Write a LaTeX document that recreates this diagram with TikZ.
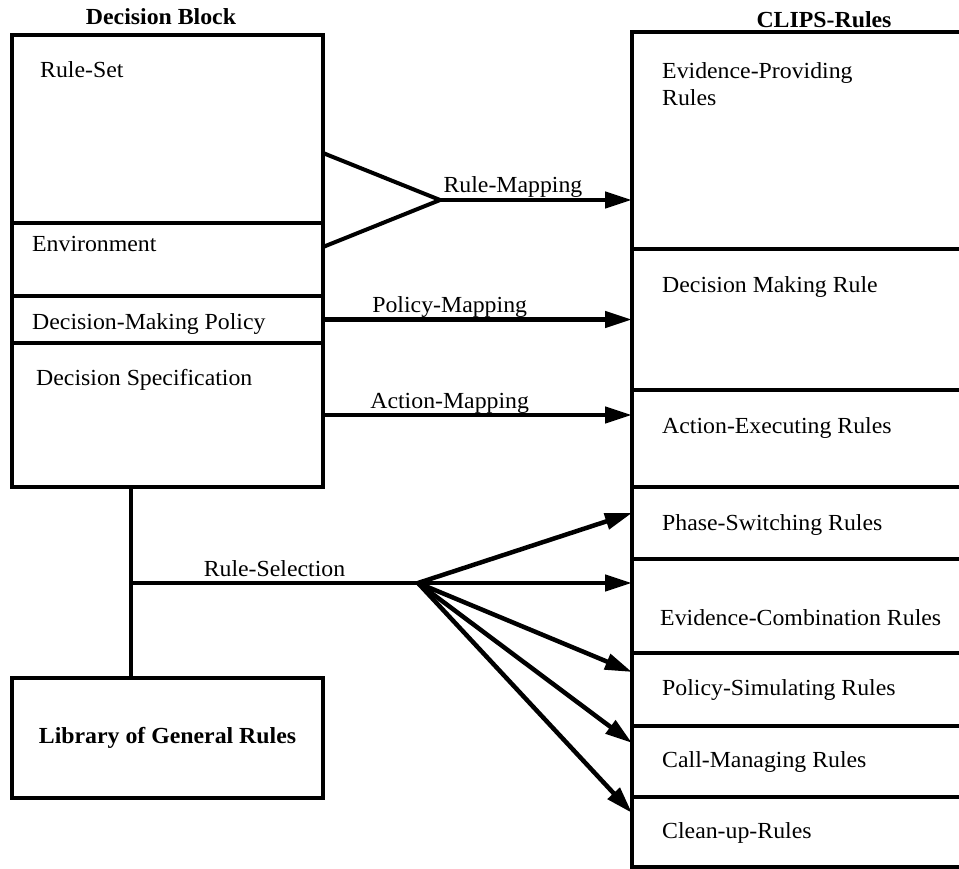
\documentclass[tikz,border=0pt]{standalone}
\usepackage{fontspec}
\setmainfont[FakeStretch=1.035]{Liberation Serif}
\usetikzlibrary{arrows.meta,calc}

\begin{document}
\begin{tikzpicture}[x=1pt,y=-1pt,
  sect/.style={draw,line width=3.5pt,inner sep=0pt,outer sep=0pt},
  frame/.style={draw,line width=4.5pt},
  txt/.style={anchor=base west,inner sep=0pt,font=\fontsize{23}{27}\selectfont},
  head/.style={anchor=base,inner sep=0pt,font=\fontsize{23}{27}\selectfont\bfseries},
  lbl/.style={anchor=base,inner sep=0pt,yshift=7pt,font=\fontsize{23}{27}\selectfont},
  conn/.style={line width=4pt},
  arr/.style={line width=4.5pt,-{Triangle[length=27pt,width=16pt]}}]

  \clip (0,0) rectangle (959,869);

  % decision block
  \node[head] (hdblock) at (161,25) {Decision Block};
  \node[sect,minimum width=311pt,minimum height=188pt] (ruleset) at (167.5,129) {};
  \node[sect,minimum width=311pt,minimum height=73pt] (env) at (167.5,259.5) {};
  \node[sect,minimum width=311pt,minimum height=47pt] (policy) at (167.5,319.5) {};
  \node[sect,minimum width=311pt,minimum height=144pt] (spec) at (167.5,415) {};
  \draw[frame] (ruleset.north west) rectangle (spec.south east);
  \node[txt] (truleset) at (40,78) {Rule-Set};
  \node[txt] (tenv) at (32,252) {Environment};
  \node[txt] (tpolicy) at (32,329) {Decision-Making Policy};
  \node[txt] (tspec) at (36,385) {Decision Specification};

  % library
  \node[sect,line width=4.5pt,minimum width=311pt,minimum height=120pt,
        font=\fontsize{23}{27}\selectfont\bfseries] (lib) at (167.5,738) {Library of General Rules};

  % clips rules
  \node[head] (hclips) at (824,28) {CLIPS-Rules};
  \node[sect,minimum width=368pt,minimum height=217pt] (evprov) at (816,140.5) {};
  \node[sect,minimum width=368pt,minimum height=141pt] (decrule) at (816,319.5) {};
  \node[sect,minimum width=368pt,minimum height=97pt] (action) at (816,438.5) {};
  \node[sect,minimum width=368pt,minimum height=72pt] (phase) at (816,523) {};
  \node[sect,minimum width=368pt,minimum height=94pt] (evcomb) at (816,606) {};
  \node[sect,minimum width=368pt,minimum height=73pt] (polsim) at (816,689.5) {};
  \node[sect,minimum width=368pt,minimum height=71pt] (callman) at (816,761.5) {};
  \node[sect,minimum width=368pt,minimum height=70pt] (cleanup) at (816,832) {};
  \draw[frame] (evprov.north west) rectangle (cleanup.south east);
  \node[txt,anchor=north west,align=left] (tevprov) at (662,62.3) {Evidence-Providing\\Rules};
  \node[txt] (tdecrule) at (662,292) {Decision Making Rule};
  \node[txt] (taction) at (662,433) {Action-Executing Rules};
  \node[txt] (tphase) at (662,530) {Phase-Switching Rules};
  \node[txt] (tevcomb) at (660,625) {Evidence-Combination Rules};
  \node[txt] (tpolsim) at (662,695) {Policy-Simulating Rules};
  \node[txt] (tcallman) at (662,767) {Call-Managing Rules};
  \node[txt] (tcleanup) at (662,838) {Clean-up-Rules};

  % mappings
  \coordinate (fork) at (440,200);
  \draw[conn] ([yshift=70pt]ruleset.south east) -- (fork) -- ([yshift=-24pt]env.north east);
  \draw[arr] (fork) -- node[lbl,pos=0.38] (rmap) {Rule-Mapping} (fork -| evprov.west);
  \draw[arr] (policy.east) -- node[lbl,pos=0.41] (pmap) {Policy-Mapping} (policy.east -| decrule.west);
  \draw[arr] (spec.east) -- node[lbl,pos=0.41] (amap) {Action-Mapping} (spec.east -| action.west);

  % rule selection
  \coordinate (trunk) at (131,583);
  \coordinate (select) at (418,583);
  \draw[conn] (trunk |- spec.south) -- (trunk |- lib.north);
  \draw[conn] (trunk) -- node[lbl] (rsel) {Rule-Selection} (select);
  \foreach \n/\dy in {phase/26,evcomb/24,polsim/19,callman/17,cleanup/16}
    \draw[arr] (select) -- ([yshift=-\dy pt]\n.north west);
\end{tikzpicture}
\end{document}
